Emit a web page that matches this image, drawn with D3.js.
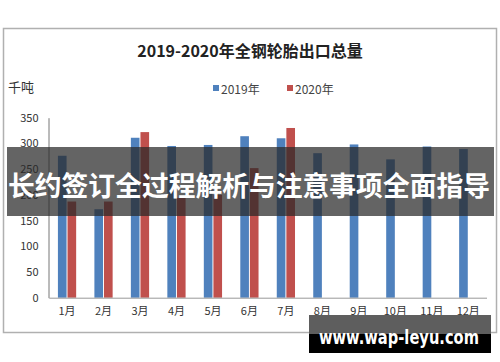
<!DOCTYPE html>
<html><head><meta charset="utf-8">
<script src="https://cdn.jsdelivr.net/npm/d3@7"></script>
<style>
html,body{margin:0;padding:0;background:#fff;}
svg{display:block;font-family:"Noto Sans CJK SC","Noto Sans",sans-serif;}
</style></head>
<body>
<svg id="c" width="500" height="362"></svg>
<script>
const months = ["1月","2月","3月","4月","5月","6月","7月","8月","9月","10月","11月","12月"];
const seriesNames = ["2019年","2020年"];
const values2019 = [276,172,311,295,297,314,310,281,298,269,294,289];
const values2020 = [187,187,322,194,200,252,330,null,null,null,null,null];
const yTicks = [0,50,100,150,200,250,300,350];
const colors = ["#4f81bd","#c0504d"];
const titleText = "2019-2020年全钢轮胎出口总量";
const unitText = "千吨";
const bannerText = "长约签订全过程解析与注意事项全面指导";
const watermarkText = "www.wap-leyu.com";

const svg = d3.select("#c");
svg.append("rect").attr("width",500).attr("height",362).attr("fill","#fff");
svg.append("rect").attr("x",3.5).attr("y",28.5).attr("width",493).attr("height",304)
  .attr("fill","#fff").attr("stroke","#b0b0b0").attr("stroke-width",1.5);

svg.append("text").attr("x",250).attr("y",50).attr("text-anchor","middle")
  .attr("dominant-baseline","central").attr("font-size",16).attr("font-weight","bold")
  .attr("fill","#222").text(titleText);
svg.append("text").attr("x",8).attr("y",86).attr("dominant-baseline","central")
  .attr("font-size",13).attr("fill","#333").text(unitText);

const leg = svg.append("g");
const legX = [213,287];
seriesNames.forEach((n,i)=>{
  leg.append("rect").attr("x",legX[i]).attr("y",85).attr("width",6).attr("height",6).attr("fill",colors[i]);
  leg.append("text").attr("x",legX[i]+8).attr("y",88).attr("dominant-baseline","central")
    .attr("font-size",12).attr("fill","#444").text(n);
});

const y = d3.scaleLinear().domain([0,350]).range([297.7,117.7]);
const x0 = d3.scaleBand().domain(months).range([48.8,486.5]).paddingInner(0.5).paddingOuter(0.25);
const x1 = d3.scaleBand().domain([0,1]).range([0,x0.bandwidth()]).paddingInner(0.1);

const rows = months.map((m,i)=>({m, v:[values2019[i],values2020[i]]}));
const g = svg.append("g");
g.selectAll("g.m").data(rows).join("g").attr("class","m")
  .attr("transform",d=>`translate(${x0(d.m)},0)`)
  .selectAll("rect").data(d=>d.v.map((v,i)=>({v,i})).filter(e=>e.v!=null)).join("rect")
  .attr("x",e=>x1(e.i)).attr("width",x1.bandwidth())
  .attr("y",e=>y(e.v)).attr("height",e=>y(0)-y(e.v)).attr("fill",e=>colors[e.i]);

const ya = svg.append("g").attr("transform","translate(48.5,0)")
  .call(d3.axisLeft(y).tickValues(yTicks).tickSize(0).tickPadding(10));
ya.select(".domain").attr("stroke","#777");
ya.selectAll("text").attr("font-size",11).attr("fill","#333").attr("font-family","Noto Sans CJK SC, sans-serif");

const xa = svg.append("g").attr("transform",`translate(0,${y(0)})`)
  .call(d3.axisBottom(x0).tickSize(0).tickPadding(10));
xa.select(".domain").attr("stroke","#999");
xa.selectAll("text").attr("font-size",11).attr("fill","#333").attr("font-family","Noto Sans CJK SC, sans-serif");

// overlay banner
svg.append("rect").attr("x",7).attr("y",147).attr("width",487).attr("height",69)
  .attr("fill","rgba(40,40,40,0.72)");
svg.append("text").attr("x",249).attr("y",184).attr("text-anchor","middle")
  .attr("dominant-baseline","central").attr("font-size",27).attr("font-weight","bold")
  .attr("fill","#fff").attr("textLength",482).attr("lengthAdjust","spacingAndGlyphs").text(bannerText);

// watermark
svg.append("rect").attr("x",309).attr("y",315).attr("width",182).attr("height",19).attr("fill","#5e5e5e");
svg.append("rect").attr("x",309).attr("y",334).attr("width",182).attr("height",19).attr("fill","#000");
svg.append("text").attr("x",399).attr("y",337).attr("text-anchor","middle")
  .attr("dominant-baseline","central").attr("font-size",20).attr("font-weight","bold")
  .attr("font-family","DejaVu Sans, sans-serif")
  .attr("fill","#fff").attr("textLength",160).attr("lengthAdjust","spacingAndGlyphs").text(watermarkText);
</script>
</body></html>
